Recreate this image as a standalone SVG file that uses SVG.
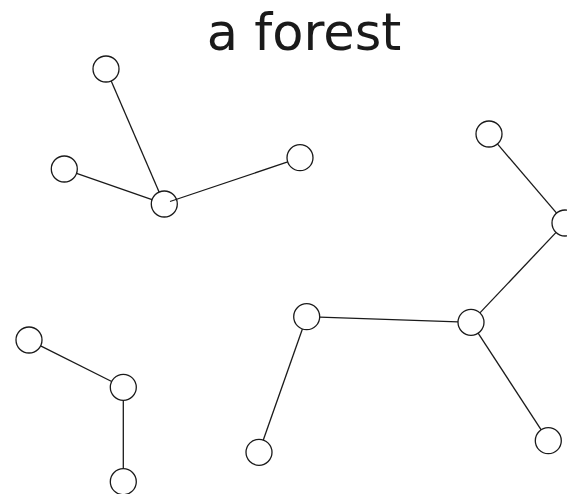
<svg xmlns="http://www.w3.org/2000/svg" width="567" height="494" viewBox="0 0 567 494">
<style>
.n{fill:#fff;stroke:#1a1a1a;stroke-width:1.3}
.e line{stroke:#1a1a1a;stroke-width:1.3}
.t{font-family:"DejaVu Sans","Liberation Sans",sans-serif;font-size:51px;fill:#1a1a1a}
</style>
<rect width="567" height="494" fill="#fff"/>
<text class="t" x="304" y="50" text-anchor="middle">a forest</text>
<g class="e" id="edges">
<line x1="111.2" y1="80.9" x2="159.1" y2="192.1"/>
<line x1="76.6" y1="173.3" x2="152.0" y2="199.7"/>
<line x1="170.0" y1="201.5" x2="287.7" y2="161.9"/>
<line x1="497.4" y1="143.9" x2="556.6" y2="213.1"/>
<line x1="556.1" y1="232.4" x2="479.9" y2="312.9"/>
<line x1="319.7" y1="317.1" x2="458.0" y2="321.9"/>
<line x1="478.1" y1="333.2" x2="541.2" y2="429.8"/>
<line x1="302.4" y1="329.0" x2="263.3" y2="440.0"/>
<line x1="40.6" y1="345.8" x2="111.7" y2="381.5"/>
<line x1="123.3" y1="400.3" x2="123.3" y2="468.7"/>
</g>
<g id="A"><circle class="n" cx="106" cy="69" r="13"/></g>
<g id="B"><circle class="n" cx="64.3" cy="169" r="13"/></g>
<g id="C"><circle class="n" cx="164.3" cy="204" r="13" style="fill:none"/></g>
<g id="D"><circle class="n" cx="300" cy="157.7" r="13"/></g>
<g id="E"><circle class="n" cx="489" cy="134" r="13"/></g>
<g id="F"><circle class="n" cx="565" cy="223" r="13"/></g>
<g id="G"><circle class="n" cx="306.7" cy="316.7" r="13"/></g>
<g id="H"><circle class="n" cx="471" cy="322.3" r="13"/></g>
<g id="I"><circle class="n" cx="259" cy="452.3" r="13"/></g>
<g id="J"><circle class="n" cx="548.3" cy="440.7" r="13"/></g>
<g id="K"><circle class="n" cx="29" cy="340" r="13"/></g>
<g id="L"><circle class="n" cx="123.3" cy="387.3" r="13"/></g>
<g id="M"><circle class="n" cx="123.3" cy="481.7" r="13"/></g>
</svg>
